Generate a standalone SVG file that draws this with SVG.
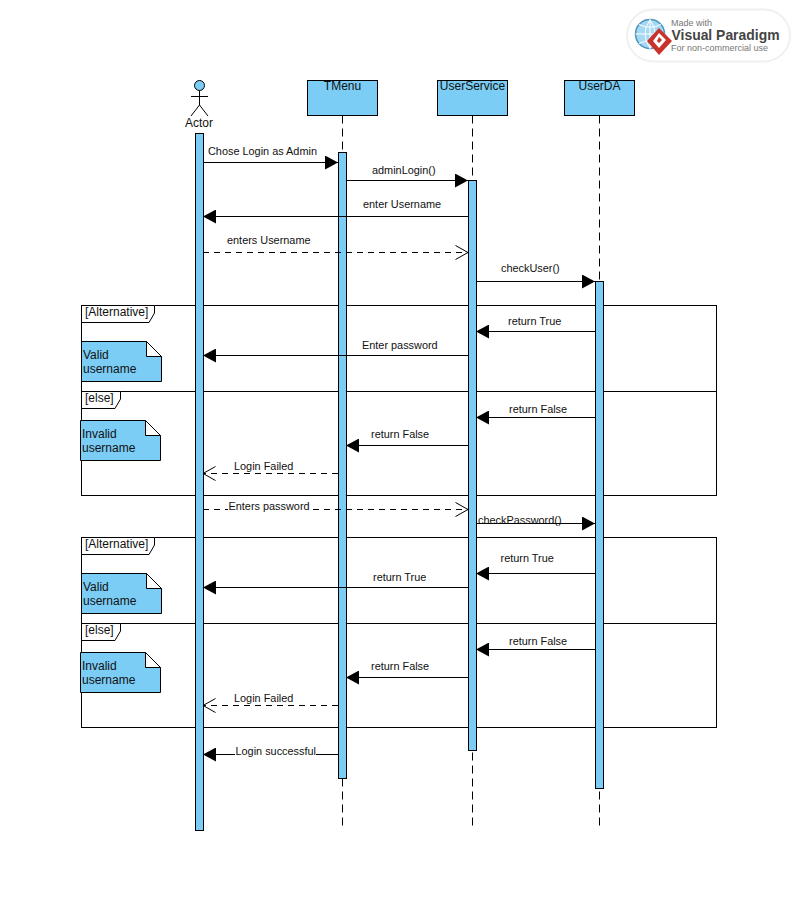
<svg xmlns="http://www.w3.org/2000/svg" width="798" height="911" viewBox="0 0 798 911">
<style>
text{font-family:"Liberation Sans",Arial,sans-serif;font-size:10.900px;fill:#111}
.n{font-size:12px}
.box{fill:#7bcdf5;stroke:#000;stroke-width:1}
.bar{fill:#7bcdf5;stroke:#000;stroke-width:1}
.life{stroke:#000;stroke-width:1;stroke-dasharray:8 5;fill:none}
.frame{fill:none;stroke:#000;stroke-width:1}
.tab{fill:#fff;stroke:#000;stroke-width:1}
.m{stroke:#000;stroke-width:1;fill:none}
.r{stroke:#000;stroke-width:1;fill:none;stroke-dasharray:6 5}
.mid{text-anchor:middle}
</style>
<defs>
<marker id="solid" markerUnits="userSpaceOnUse" markerWidth="14" markerHeight="14" refX="13" refY="7" orient="auto-start-reverse"><path d="M0 0L13 7L0 14Z" fill="#000"/></marker>
<marker id="open" markerUnits="userSpaceOnUse" markerWidth="15" markerHeight="16" refX="13.500" refY="8" orient="auto-start-reverse"><path d="M1 1L13.500 8L1 15" fill="none" stroke="#000"/></marker>
</defs>
<rect width="798" height="911" fill="#fff"/>

<g id="logo">
<rect x="627" y="9.500" width="163" height="52" rx="26" fill="#fff" stroke="#f0f0f0" stroke-width="2"/>
<circle cx="650" cy="34" r="14.500" fill="#a5d8f2" stroke="#4a94bd" stroke-width="1.500"/>
<path d="M635.500 34H664.500M650 19.500V48.500M639 24.500Q650 30 661 24.500M639 43.500Q650 38 661 43.500M650 19.500Q640 34 650 48.500M650 19.500Q660 34 650 48.500" fill="none" stroke="#fff" stroke-width="1"/>
<path d="M659 28L672 41L659 55L647 41Z" fill="#c8322b"/>
<path d="M659 33L666 40L659 48L653 41Z" fill="#fff"/>
<path d="M659 37L662 40L659 43L657 41Z" fill="#c8322b"/>
<text x="671" y="26" style="font-size:9px;fill:#777">Made with</text>
<text x="671.500" y="40" style="font-size:14.500px;font-weight:bold;fill:#444" textLength="108" lengthAdjust="spacingAndGlyphs">Visual Paradigm</text>
<text x="671" y="51" style="font-size:9px;fill:#777">For non-commercial use</text>
</g>

<g id="frames">
<g id="frame-alt-1">
<rect class="frame" x="81.500" y="305.500" width="635" height="190"/>
<path class="frame" d="M81.500 391.500H716.500"/>
<path class="tab" d="M81.500 305.500H154.500V313L149 322.500H81.500Z"/>
<text class="n" x="85" y="316">[Alternative]</text>
<path class="tab" d="M81.500 391.500H120.500V399L115 408.500H81.500Z"/>
<text class="n" x="85" y="402">[else]</text>
</g>
<g id="frame-alt-2">
<rect class="frame" x="81.500" y="537.500" width="635" height="190"/>
<path class="frame" d="M81.500 623.500H716.500"/>
<path class="tab" d="M81.500 537.500H154.500V545L149 554.500H81.500Z"/>
<text class="n" x="85" y="548">[Alternative]</text>
<path class="tab" d="M81.500 623.500H120.500V631L115 640.500H81.500Z"/>
<text class="n" x="85" y="634">[else]</text>
</g>
</g>

<g id="actor">
<circle cx="199.500" cy="85.500" r="5" fill="#7bcdf5" stroke="#000"/>
<path class="m" d="M199.500 90.500V105M191 96.500H208M199.500 105L191 116M199.500 105L208 116"/>
<text class="n mid" x="199" y="127">Actor</text>
<rect class="bar" x="195.500" y="133.500" width="8" height="697"/>
</g>
<g id="tmenu">
<path class="life" d="M342.500 115.500V828"/>
<rect class="box" x="307.500" y="80.500" width="70" height="35"/>
<text class="n mid" x="342.500" y="90">TMenu</text>
<rect class="bar" x="338.500" y="152.500" width="8" height="626"/>
</g>
<g id="userservice">
<path class="life" d="M472.500 115.500V828"/>
<rect class="box" x="437.500" y="80.500" width="70" height="35"/>
<text class="n mid" x="472.500" y="90">UserService</text>
<rect class="bar" x="468.500" y="180.500" width="8" height="570"/>
</g>
<g id="userda">
<path class="life" d="M599.500 115.500V828"/>
<rect class="box" x="564.500" y="80.500" width="70" height="35"/>
<text class="n mid" x="599.500" y="90">UserDA</text>
<rect class="bar" x="595.500" y="281.500" width="8" height="507"/>
</g>

<g id="notes">
<g id="note-1"><path class="box" d="M81.500 341.500H146.500L161.500 356.500V381.500H81.500Z"/><path class="tab" d="M146.500 341.500V356.500H161.500Z"/><text class="n" x="83" y="359">Valid</text><text class="n" x="83" y="373">username</text></g>
<g id="note-2"><path class="box" d="M80.500 420.500H145.500L160.500 435.500V460.500H80.500Z"/><path class="tab" d="M145.500 420.500V435.500H160.500Z"/><text class="n" x="82" y="438">Invalid</text><text class="n" x="82" y="452">username</text></g>
<g id="note-3"><path class="box" d="M81.500 573.500H146.500L161.500 588.500V613.500H81.500Z"/><path class="tab" d="M146.500 573.500V588.500H161.500Z"/><text class="n" x="83" y="591">Valid</text><text class="n" x="83" y="605">username</text></g>
<g id="note-4"><path class="box" d="M80.500 652.500H145.500L160.500 667.500V692.500H80.500Z"/><path class="tab" d="M145.500 652.500V667.500H160.500Z"/><text class="n" x="82" y="670">Invalid</text><text class="n" x="82" y="684">username</text></g>
</g>

<g id="connectors">
<path class="m" marker-end="url(#solid)" d="M203 162.500H338"/>
<path class="m" marker-end="url(#solid)" d="M346 180.500H468"/>
<path class="m" marker-end="url(#solid)" d="M468 216.500H203"/>
<path class="r" marker-end="url(#open)" d="M203 252.500H468"/>
<path class="m" marker-end="url(#solid)" d="M476 281.500H595"/>
<path class="m" marker-end="url(#solid)" d="M595 331.500H476"/>
<path class="m" marker-end="url(#solid)" d="M468 355.500H203"/>
<path class="m" marker-end="url(#solid)" d="M595 417.500H476"/>
<path class="m" marker-end="url(#solid)" d="M468 445.500H346"/>
<path class="r" marker-end="url(#open)" d="M338 473.500H203"/>
<path class="r" marker-end="url(#open)" d="M203 509.500H468"/>
<path class="m" marker-end="url(#solid)" d="M476 523.500H595"/>
<path class="m" marker-end="url(#solid)" d="M595 573.500H476"/>
<path class="m" marker-end="url(#solid)" d="M468 587.500H203"/>
<path class="m" marker-end="url(#solid)" d="M595 649.500H476"/>
<path class="m" marker-end="url(#solid)" d="M468 677.500H346"/>
<path class="r" marker-end="url(#open)" d="M338 705.500H203"/>
<path class="m" marker-end="url(#solid)" d="M338 754.500H203"/>
</g>

<g id="labels">
<text x="208" y="155">Chose Login as Admin</text>
<text x="372" y="174">adminLogin()</text>
<text x="363" y="208">enter Username</text>
<text x="227" y="244">enters Username</text>
<text x="501" y="272">checkUser()</text>
<text x="508" y="325">return True</text>
<text x="362" y="349">Enter password</text>
<text x="509" y="413">return False</text>
<text x="371" y="438">return False</text>
<text x="234" y="470">Login Failed</text>
<rect x="228" y="500" width="83" height="14" fill="#fff"/>
<text x="228.500" y="510">Enters password</text>
<text x="478" y="524">checkPassword()</text>
<text x="500.500" y="562">return True</text>
<text x="373" y="581">return True</text>
<text x="509" y="645">return False</text>
<text x="371" y="670">return False</text>
<text x="234" y="702">Login Failed</text>
<rect x="235" y="746" width="81" height="14" fill="#fff"/>
<text x="235.500" y="755">Login successful</text>
</g>
</svg>
